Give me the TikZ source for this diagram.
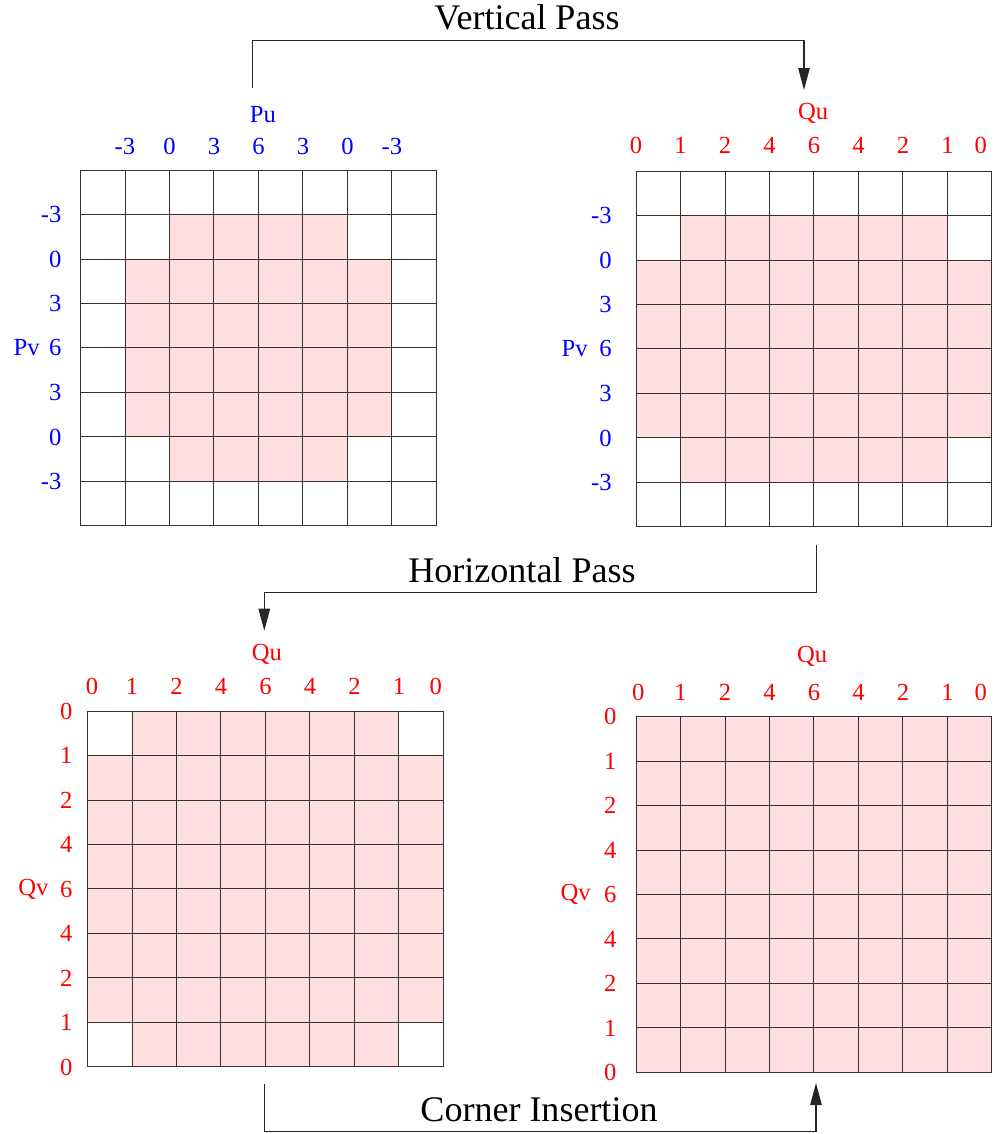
\documentclass[tikz,border=0pt]{standalone}
\usepackage{fontspec}
\setmainfont{Liberation Serif}
\usepackage{tikz}
\usetikzlibrary{arrows.meta}
\definecolor{cellpink}{RGB}{255,222,224}

\begin{document}
\begin{tikzpicture}[
      x=0.02cm, y=-0.02cm,
      every node/.style={font=\fontsize{14}{16}\selectfont, inner sep=0pt},
      gridline/.style={draw=black!80, line width=0.55pt, line cap=rect},
      hot/.style={fill=cellpink},
      plbl/.style={text=blue},
      qlbl/.style={text=red},
      pass/.style={-{Triangle[length=4.4mm, width=2.3mm]}, line width=0.6pt, draw=black!85},
      passlbl/.style={font=\fontsize{20.5}{24}\selectfont},
    ]
    \useasboundingbox (0,0) rectangle (995,1134);

    %% Grid 1: input, P on both axes
    \begin{scope}[shift={(80.5,170)}, x=0.89cm, y=-0.89cm]
      \fill[hot] (2,1) rectangle (6,2) (1,2) rectangle (7,6) (2,6) rectangle (6,7);
      \foreach \i in {0,...,8} {
        \draw[gridline] (\i,0) -- (\i,8);
        \draw[gridline] (0,\i) -- (8,\i);
      }
      \foreach \v [count=\i] in {-3,0,3,6,3,0,-3}
        \node[plbl] (g1u\i) at (\i,-0.52) {\v};
      \foreach \v [count=\i] in {-3,0,3,6,3,0,-3}
        \node[plbl, anchor=east] (g1v\i) at (-0.42,\i) {\v};
      \node[plbl] (g1pu) at (4.1,-1.24) {Pu};
      \node[plbl, anchor=east] (g1pv) at (-0.91,4) {Pv};
    \end{scope}

    %% Grid 2: after vertical pass
    \begin{scope}[shift={(636,171)}, x=0.89cm, y=-0.89cm]
      \fill[hot] (1,1) rectangle (7,2) (0,2) rectangle (8,6) (1,6) rectangle (7,7);
      \foreach \i in {0,...,8} {
        \draw[gridline] (\i,0) -- (\i,8);
        \draw[gridline] (0,\i) -- (8,\i);
      }
      \foreach \v/\p [count=\i] in {0/0,1/1,2/2,4/3,6/4,4/5,2/6,1/7,0/7.75}
        \node[qlbl] (g2u\i) at (\p,-0.58) {\v};
      \foreach \v [count=\i] in {-3,0,3,6,3,0,-3}
        \node[plbl, anchor=east] (g2v\i) at (-0.54,\i) {\v};
      \node[qlbl] (g2qu) at (3.98,-1.3) {Qu};
      \node[plbl, anchor=east] (g2pv) at (-1.08,4) {Pv};
    \end{scope}

    %% Grid 3: after horizontal pass
    \begin{scope}[shift={(87.5,711)}, x=0.89cm, y=-0.89cm]
      \fill[hot] (1,0) rectangle (7,1) (0,1) rectangle (8,7) (1,7) rectangle (7,8);
      \foreach \i in {0,...,8} {
        \draw[gridline] (\i,0) -- (\i,8);
        \draw[gridline] (0,\i) -- (8,\i);
      }
      \foreach \v/\p [count=\i] in {0/0.1,1/1,2/2,4/3,6/4,4/5,2/6,1/7,0/7.83}
        \node[qlbl] (g3u\i) at (\p,-0.56) {\v};
      \foreach \v [count=\i from 0] in {0,1,2,4,6,4,2,1,0}
        \node[qlbl, anchor=east] (g3v\i) at (-0.33,\i) {\v};
      \node[qlbl] (g3qu) at (4.03,-1.27) {Qu};
      \node[qlbl, anchor=east] (g3qv) at (-0.87,4) {Qv};
    \end{scope}

    %% Grid 4: after corner insertion
    \begin{scope}[shift={(636,716.5)}, x=0.89cm, y=-0.89cm]
      \fill[hot] (0,0) rectangle (8,8);
      \foreach \i in {0,...,8} {
        \draw[gridline] (\i,0) -- (\i,8);
        \draw[gridline] (0,\i) -- (8,\i);
      }
      \foreach \v/\p [count=\i] in {0/0.05,1/1,2/2,4/3,6/4,4/5,2/6,1/7,0/7.75}
        \node[qlbl] (g4u\i) at (\p,-0.55) {\v};
      \foreach \v [count=\i from 0] in {0,1,2,4,6,4,2,1,0}
        \node[qlbl, anchor=east] (g4v\i) at (-0.43,\i) {\v};
      \node[qlbl] (g4qu) at (3.96,-1.35) {Qu};
      \node[qlbl, anchor=east] (g4qv) at (-1.01,4) {Qv};
    \end{scope}

    %% Passes
    \node[passlbl] (vtitle) at (527,17) {Vertical Pass};
    \node[passlbl] (htitle) at (522,570) {Horizontal Pass};
    \node[passlbl] (ctitle) at (539,1110) {Corner Insertion};

    \coordinate (vp-from) at (252.7,88);
    \coordinate (vp-to)   at (804,90);
    \coordinate (hp-from) at (816.7,545);
    \coordinate (hp-to)   at (264.3,630.7);
    \coordinate (ci-from) at (264.7,1084);
    \coordinate (ci-to)   at (816,1083);

    \draw[pass] (vp-from) -- ++(0,-47.3) -| (vp-to);
    \draw[pass] (hp-from) -- ++(0,47.5) -| (hp-to);
    \draw[pass] (ci-from) -- ++(0,47.7) -| (ci-to);
  \end{tikzpicture}
\end{document}
